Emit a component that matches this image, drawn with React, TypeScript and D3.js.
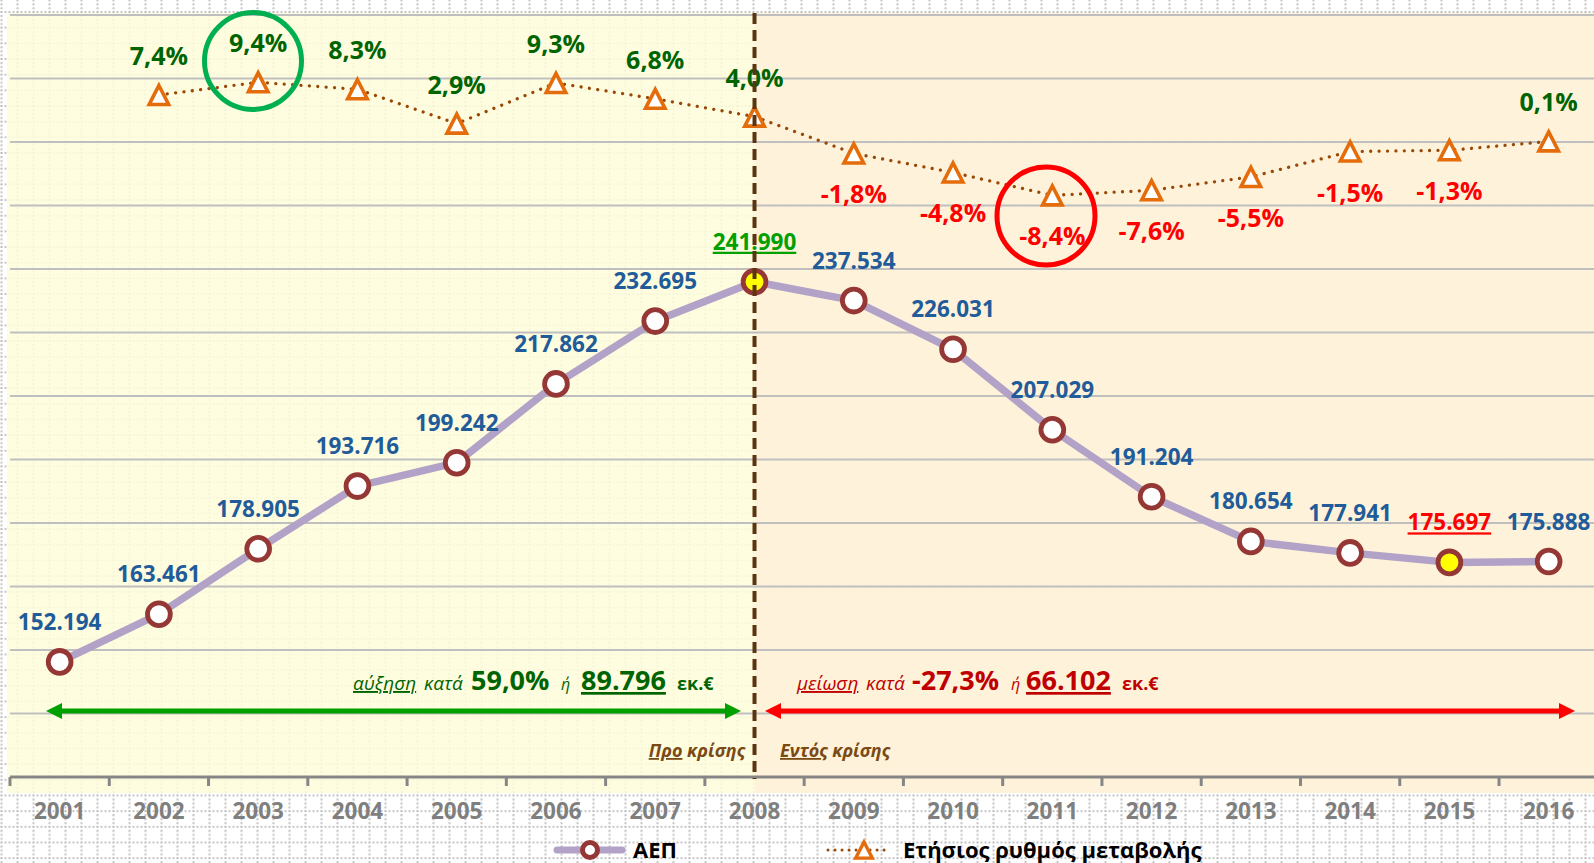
import React from 'react';
import * as d3 from 'd3';

const years = ['2001','2002','2003','2004','2005','2006','2007','2008','2009','2010','2011','2012','2013','2014','2015','2016'];
const gdp = [152194,163461,178905,193716,199242,217862,232695,241990,237534,226031,207029,191204,180654,177941,175697,175888];
const growth: (number | null)[] = [null,7.4,9.4,8.3,2.9,9.3,6.8,4.0,-1.8,-4.8,-8.4,-7.6,-5.5,-1.5,-1.3,0.1];
const gridValues = [140000,155000,170000,185000,200000,215000,230000,245000,260000,275000,290000,305000];
const peakYear = '2008';
const troughYear = '2015';
const legendLabels = ['ΑΕΠ', 'Ετήσιος ρυθμός μεταβολής'];

const W = 1594, H = 863;
const FONT = "'Open Sans', 'Noto Sans', 'DejaVu Sans', sans-serif";

const loc = d3.formatLocale({ decimal: ',', thousands: '.', grouping: [3], currency: ['', '€'], minus: '-' } as any);
const fmtInt = loc.format(',d');
const fmtPct = (v: number) => loc.format('.1f')(v) + '%';

const x = d3.scaleBand<string>().domain(years).range([10, 1598.3]).paddingInner(0).paddingOuter(0);
const cx = (y: string) => (x(y) as number) + x.bandwidth() / 2;
const yL = d3.scaleLinear().domain([125000, 305000]).range([777, 15]);
const yR = d3.scaleLinear().domain([-100, 20]).range([777, 15]);

const LAV = '#B3A2C7';
const MRED = '#953735';
const BLUE = '#1F5C99';
const DGREEN = '#006400';
const GREEN = '#00A000';
const RED = '#FF0000';
const DRED = '#C00000';
const ORANGE = '#E46C0A';
const DOT = '#984807';
const BROWN = '#7A4A14';

const tri = (px: number, py: number, s = 1) =>
  `M${px},${py - 9.5 * s}L${px + 9.75 * s},${py + 9.5 * s}L${px - 9.75 * s},${py + 9.5 * s}Z`;

export default function App() {
  const gdpPts = years.map((y, i) => [cx(y), yL(gdp[i])] as [number, number]);
  const grPts = years
    .map((y, i) => ({ y, v: growth[i] }))
    .filter(d => d.v !== null)
    .map(d => ({ year: d.y, v: d.v as number, px: cx(d.y), py: yR(d.v as number) }));
  const lineGen = d3.line<[number, number]>().curve(d3.curveLinear);
  const gdpPath = lineGen(gdpPts) || '';
  const grPath = lineGen(grPts.map(p => [p.px, p.py] as [number, number])) || '';
  const xPeak = cx(peakYear);
  const boundaries = years.map(y => x(y) as number);

  return (
    <svg width={W} height={H} style={{ display: 'block', position: 'absolute', left: 0, top: 0 }} fontFamily={FONT}>
      <defs>
        <pattern id="cells" patternUnits="userSpaceOnUse" x={0.5} y={11} width={16} height={15.67}>
          <line x1={0} y1={1} x2={16} y2={1} stroke="#b4b4b4" strokeWidth={1.6} strokeDasharray="2 2" />
          <line x1={1} y1={0} x2={1} y2={15.67} stroke="#b4b4b4" strokeWidth={1.6} strokeDasharray="2 2" />
        </pattern>
      </defs>
      <rect x={0} y={0} width={W} height={H} fill="#ffffff" />
      <rect x={0} y={0} width={W} height={H} fill="url(#cells)" />
      {/* plot area fills */}
      <rect x={7} y={13} width={W - 7} height={780} fill="rgb(255,253,219)" fillOpacity={0.86} />
      <rect x={xPeak} y={13} width={W - xPeak} height={780} fill="rgb(254,241,216)" fillOpacity={0.86} />

      {/* gridlines */}
      {gridValues.map(v => (
        <line key={v} x1={10} x2={W} y1={yL(v)} y2={yL(v)} stroke="#BFBFBF" strokeWidth={2} />
      ))}
      {/* x axis */}
      <line x1={10} x2={W} y1={yL(125000)} y2={yL(125000)} stroke="#868686" strokeWidth={3} />
      {boundaries.map((b, i) => (
        <line key={i} x1={b} x2={b} y1={yL(125000)} y2={yL(125000) + 9} stroke="#868686" strokeWidth={3} />
      ))}
      {years.map(y => (
        <text key={y} x={cx(y)} y={818.5} textAnchor="middle" fontSize={22.5} fontWeight={700} fill="#7F7F7F">{y}</text>
      ))}

      {/* growth dotted line */}
      <path d={grPath} fill="none" stroke={DOT} strokeWidth={3.3} strokeDasharray="0.01 8.4" strokeLinecap="round" />
      {grPts.map(p => (
        <path key={p.year} d={tri(p.px, p.py)} fill="#fff" stroke={ORANGE} strokeWidth={3.6} strokeLinejoin="miter" />
      ))}
      {grPts.map(p => (
        <text key={'g' + p.year} x={p.px} y={p.v >= 0 ? p.py - 30 : p.py + 50} textAnchor="middle"
          fontSize={25} fontWeight={700} fill={p.v >= 0 ? DGREEN : RED}>{fmtPct(p.v)}</text>
      ))}

      {/* GDP line */}
      <path d={gdpPath} fill="none" stroke={LAV} strokeWidth={7.5} strokeLinejoin="round" />
      {gdpPts.map((p, i) => (
        <circle key={years[i]} cx={p[0]} cy={p[1]} r={11.4} fill={years[i] === peakYear || years[i] === troughYear ? '#FFFF00' : '#fff'}
          stroke={MRED} strokeWidth={4.8} />
      ))}
      {gdpPts.map((p, i) => {
        const y = years[i];
        const col = y === peakYear ? GREEN : y === troughYear ? RED : BLUE;
        const ul = y === peakYear || y === troughYear;
        return (
          <text key={'l' + y} x={p[0]} y={p[1] - 32} textAnchor="middle" fontSize={22.5} fontWeight={700} fill={col}
            textDecoration={ul ? 'underline' : undefined}>{fmtInt(gdp[i])}</text>
        );
      })}

      {/* crisis divider */}
      <line x1={xPeak} x2={xPeak} y1={13} y2={779} stroke="#5A3510" strokeWidth={4} strokeDasharray="11 6" />

      {/* arrows */}
      <line x1={58} x2={728} y1={711} y2={711} stroke={GREEN} strokeWidth={5} />
      <path d={`M46,711L62,703L62,719Z`} fill={GREEN} />
      <path d={`M741,711L725,703L725,719Z`} fill={GREEN} />
      <line x1={778} x2={1562} y1={711} y2={711} stroke={RED} strokeWidth={5} />
      <path d={`M765,711L781,703L781,719Z`} fill={RED} />
      <path d={`M1575,711L1559,703L1559,719Z`} fill={RED} />

      {/* annotations */}
      <g fill={DGREEN}>
        <text x={353} y={690} fontSize={19} fontStyle="italic" textDecoration="underline">αύξηση</text>
        <text x={424} y={690} fontSize={19} fontStyle="italic">κατά</text>
        <text x={471} y={690} fontSize={27} fontWeight={700}>59,0%</text>
        <text x={561} y={690} fontSize={16} fontStyle="italic">ή</text>
        <text x={581} y={690} fontSize={27} fontWeight={700} textDecoration="underline">89.796</text>
        <text x={677} y={690} fontSize={18} fontWeight={700}>εκ.€</text>
      </g>
      <g fill={DRED}>
        <text x={797} y={690} fontSize={19} fontStyle="italic" textDecoration="underline">μείωση</text>
        <text x={866} y={690} fontSize={19} fontStyle="italic">κατά</text>
        <text x={912} y={690} fontSize={27} fontWeight={700}>-27,3%</text>
        <text x={1011} y={690} fontSize={16} fontStyle="italic">ή</text>
        <text x={1026} y={690} fontSize={27} fontWeight={700} textDecoration="underline">66.102</text>
        <text x={1122} y={690} fontSize={18} fontWeight={700}>εκ.€</text>
      </g>
      <text x={745} y={757} textAnchor="end" fontSize={18} fontWeight={700} fontStyle="italic" fill={BROWN}>
        <tspan textDecoration="underline">Προ</tspan> κρίσης
      </text>
      <text x={780} y={757} fontSize={18} fontWeight={700} fontStyle="italic" fill={BROWN}>
        <tspan textDecoration="underline">Εντός</tspan> κρίσης
      </text>

      {/* highlight circles */}
      <circle cx={253} cy={61} r={48.5} fill="none" stroke="#00B050" strokeWidth={5} />
      <circle cx={1046} cy={216} r={49} fill="none" stroke={RED} strokeWidth={5} />

      {/* legend */}
      <line x1={557} x2={622} y1={850} y2={850} stroke={LAV} strokeWidth={7} strokeLinecap="round" />
      <circle cx={590} cy={850} r={7.5} fill="#fff" stroke={MRED} strokeWidth={5} />
      <text x={633} y={858} fontSize={22} fontWeight={700} fill="#000">{legendLabels[0]}</text>
      <line x1={828} x2={890} y1={850} y2={850} stroke={DOT} strokeWidth={3} strokeDasharray="0.01 7" strokeLinecap="round" />
      <path d={tri(864, 850, 0.85)} fill="#fff" stroke={ORANGE} strokeWidth={3.4} />
      <text x={903} y={858} fontSize={22} fontWeight={700} fill="#000">{legendLabels[1]}</text>
    </svg>
  );
}
